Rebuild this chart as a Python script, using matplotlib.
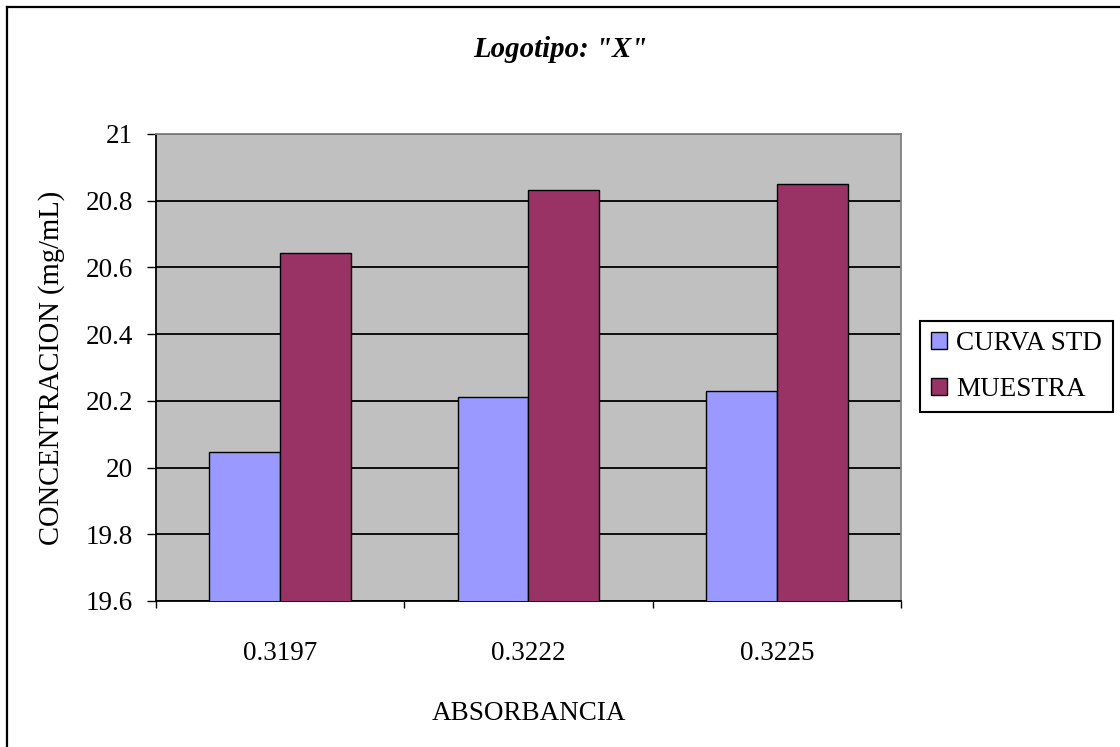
import numpy as np
import matplotlib
matplotlib.use("Agg")
import matplotlib.pyplot as plt
from matplotlib.lines import Line2D

# Data
categories = ["0.3197", "0.3222", "0.3225"]
curva_std = [20.047, 20.211, 20.231]
muestra = [20.642, 20.832, 20.849]
series_names = ["CURVA STD", "MUESTRA"]
yticks = [19.6, 19.8, 20.0, 20.2, 20.4, 20.6, 20.8, 21.0]
ytick_labels = ["19.6", "19.8", "20", "20.2", "20.4", "20.6", "20.8", "21"]

W, H = 1120, 747
plt.rcParams["font.family"] = ["Liberation Serif", "DejaVu Serif"]
FS = 19.5

fig = plt.figure(figsize=(W / 100, H / 100), dpi=100)
fig.patch.set_facecolor("white")

# Plot area in pixel terms
left, right, top, bottom = 156, 901, 134, 601
ax = fig.add_axes([left / W, 1 - bottom / H, (right - left) / W, (bottom - top) / H])
ax.set_facecolor("#C0C0C0")

x = np.arange(len(categories))
w = 0.2857
ax.bar(x - w / 2, curva_std, w, color="#9999FF", edgecolor="black",
       linewidth=1.0, label=series_names[0], zorder=3)
ax.bar(x + w / 2, muestra, w, color="#993366", edgecolor="black",
       linewidth=1.0, label=series_names[1], zorder=3)

ax.set_xlim(-0.5, len(categories) - 0.5)
ax.set_ylim(19.6, 21.0)

# Gridlines
ax.set_axisbelow(True)
ax.yaxis.grid(True, color="black", linewidth=1.3)
ax.xaxis.grid(False)

# Ticks
ax.set_yticks(yticks)
ax.set_yticklabels(ytick_labels, fontsize=FS)
ax.tick_params(axis="y", direction="out", length=6.5, width=1.0, pad=10,
               colors="black")
ax.set_xticks(x)
ax.set_xticklabels(categories, fontsize=FS)
ax.set_xticks(np.arange(-0.5, len(categories)), minor=True)
ax.tick_params(axis="x", which="major", length=0, pad=28.5)
ax.tick_params(axis="x", which="minor", direction="out", length=5, width=1.0)

# Spines
for s in ["left", "bottom"]:
    ax.spines[s].set_color("black")
    ax.spines[s].set_linewidth(1.3)
for s in ["top", "right"]:
    ax.spines[s].set_color("#808080")
    ax.spines[s].set_linewidth(1.3)

# Axis labels
ax.set_xlabel("ABSORBANCIA", fontsize=FS, va="baseline")
ax.xaxis.set_label_coords(0.5, -(720.4 - bottom) / (bottom - top))
fig.text(52 / W, 1 - 367.5 / H, "CONCENTRACION (mg/mL)", rotation=90,
         ha="center", va="center", fontsize=20.6)

# Title
fig.text(560 / W, 1 - 57.3 / H, 'Logotipo: "X"', ha="center", va="baseline",
         fontsize=20.8, fontweight="bold", fontstyle="italic")

# Legend
leg = ax.legend(loc="center", bbox_to_anchor=(1016.5 / W, 1 - 366.5 / H),
                bbox_transform=fig.transFigure, fontsize=FS, frameon=True,
                fancybox=False, shadow=False, framealpha=1, edgecolor="black",
                handlelength=0.58, handleheight=0.58, handletextpad=0.33,
                labelspacing=0.75, borderpad=0.4, borderaxespad=0)
leg.get_frame().set_linewidth(1.5)

# Chart border
fig.add_artist(Line2D([6.5 / W, 6.5 / W], [0, 1 - 6.5 / H],
                      transform=fig.transFigure, color="black", linewidth=1.6))
fig.add_artist(Line2D([6.5 / W, 1], [1 - 6.5 / H, 1 - 6.5 / H],
                      transform=fig.transFigure, color="black", linewidth=1.6))

fig.savefig("out.png", dpi=100)
